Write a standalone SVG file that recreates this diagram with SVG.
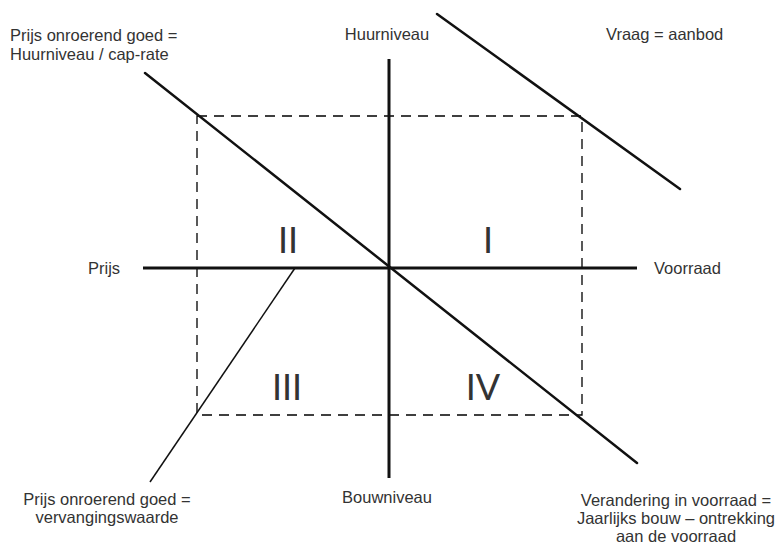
<svg xmlns="http://www.w3.org/2000/svg" width="783" height="545" viewBox="0 0 783 545">
<style>
  text { font-family: "Liberation Sans", Arial, sans-serif; font-size: 16.5px; fill: #333; }
  .roman { font-family: Lato, "Liberation Sans", sans-serif; font-weight: 400; font-size: 36px; fill: #333; text-anchor: middle; }
  .axis { stroke: #111; stroke-width: 3; fill: none; }
  .curve { stroke: #111; stroke-width: 2.5; fill: none; stroke-linecap: round; }
  .thin { stroke: #111; stroke-width: 1.5; fill: none; }
  .dash { stroke: #000; stroke-width: 1.3; fill: none; stroke-dasharray: 10 7; }
  .mid { text-anchor: middle; }
</style>
<rect width="783" height="545" fill="#fff"/>
<g id="connectors">
  <path class="dash" d="M197 116 H582 V415 H197 Z"/>
  <line class="axis" x1="389" y1="59" x2="389" y2="478"/>
  <line class="axis" x1="143" y1="268" x2="637" y2="268"/>
  <line class="curve" x1="145" y1="73" x2="637" y2="463"/>
  <line class="curve" x1="437" y1="14" x2="680" y2="189"/>
  <line class="thin" x1="295" y1="268" x2="150" y2="482"/>
</g>
<g id="quadrants">
  <text class="roman" x="288" y="253">II</text>
  <text class="roman" x="488" y="253">I</text>
  <text class="roman" x="287" y="400">III</text>
  <text class="roman" x="483" y="400">IV</text>
</g>
<g id="label-cap-rate">
  <text x="10" y="41">Prijs onroerend goed =</text>
  <text x="10" y="60">Huurniveau / cap-rate</text>
</g>
<g id="label-huurniveau"><text class="mid" x="387" y="40">Huurniveau</text></g>
<g id="label-vraag"><text x="606" y="40">Vraag = aanbod</text></g>
<g id="label-prijs"><text x="88" y="274">Prijs</text></g>
<g id="label-voorraad"><text x="654" y="274">Voorraad</text></g>
<g id="label-bouwniveau"><text class="mid" x="387" y="503">Bouwniveau</text></g>
<g id="label-vervanging">
  <text class="mid" x="107" y="505">Prijs onroerend goed =</text>
  <text class="mid" x="107" y="523">vervangingswaarde</text>
</g>
<g id="label-verandering">
  <text class="mid" x="676" y="506">Verandering in voorraad =</text>
  <text class="mid" x="676" y="524">Jaarlijks bouw – ontrekking</text>
  <text class="mid" x="676" y="542">aan de voorraad</text>
</g>
</svg>
